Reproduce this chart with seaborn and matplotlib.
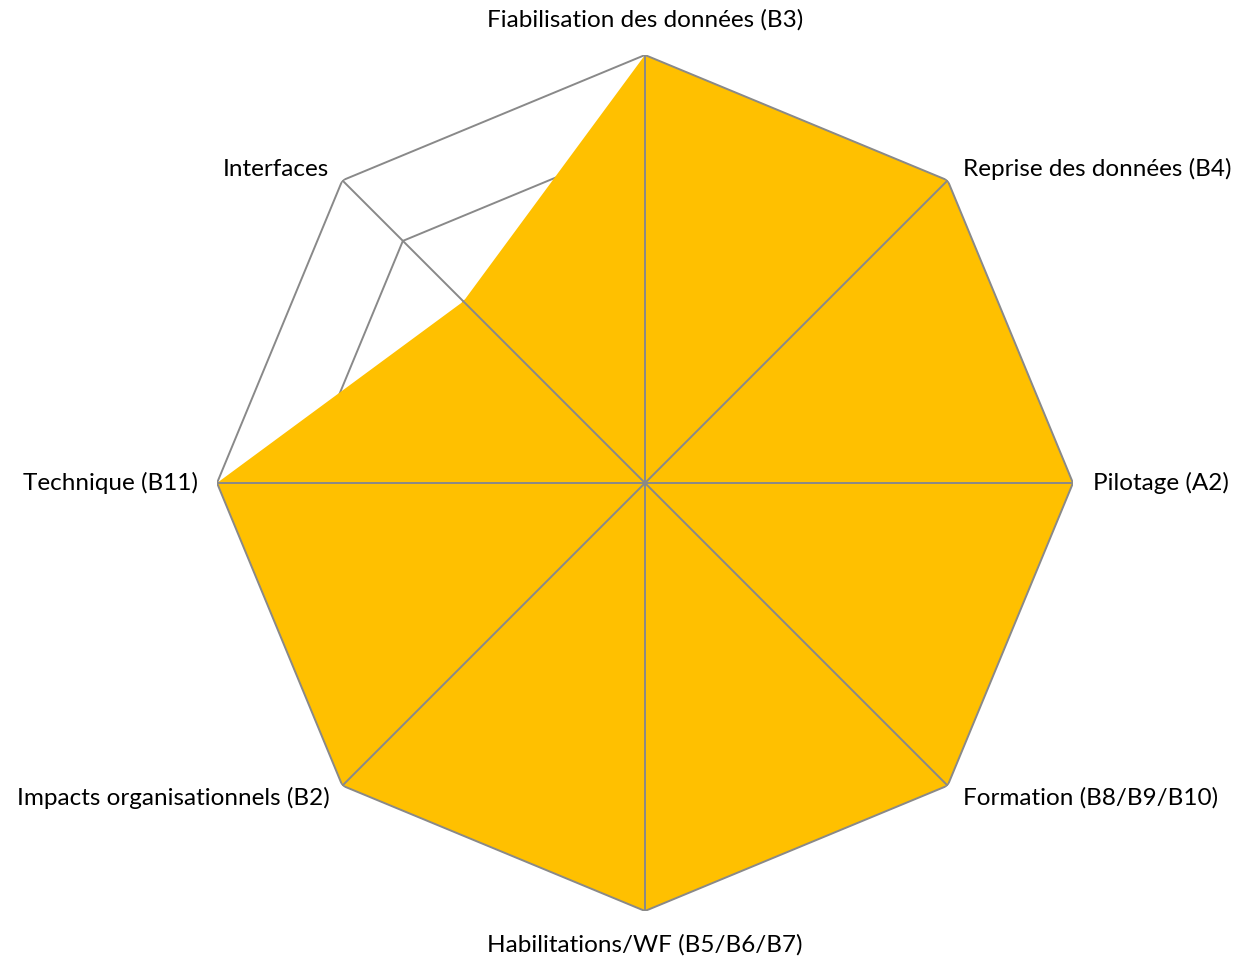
import numpy as np
import matplotlib
matplotlib.use("Agg")
import matplotlib.pyplot as plt
import seaborn as sns

categories = [
    "Fiabilisation des données (B3)",
    "Reprise des données (B4)",
    "Pilotage (A2)",
    "Formation (B8/B9/B10)",
    "Habilitations/WF (B5/B6/B7)",
    "Impacts organisationnels (B2)",
    "Technique (B11)",
    "Interfaces",
]
values = [5, 5, 5, 5, 5, 5, 5, 3]
ring_levels = [1, 2, 3, 4, 5]
max_value = 5

sns.set_theme(style="white")
plt.rcParams["font.family"] = ["Lato", "DejaVu Sans"]

fig = plt.figure(figsize=(12.37, 9.58), dpi=100)
ax = fig.add_axes([217 / 1237, (958 - 483 - 428) / 958, 856 / 1237, 856 / 958],
                  projection="polar")
ax.set_theta_offset(np.pi / 2)
ax.set_theta_direction(-1)
ax.set_ylim(0, max_value)
ax.grid(False)
ax.set_xticks([])
ax.set_yticks([])
ax.spines["polar"].set_visible(False)
ax.set_facecolor("white")

n = len(categories)
theta = np.arange(n) * 2 * np.pi / n
theta_c = np.append(theta, theta[0])

grid_color = "#898989"
lw = 1.4

# inner rings (under the fill)
for lvl in ring_levels[:-1]:
    ax.plot(theta_c, [lvl] * (n + 1), color=grid_color, lw=lw, zorder=1)

vals_c = np.append(values, values[0])
ax.fill(theta_c, vals_c, color="#FFC000", zorder=2, lw=0)

# spokes and outer ring on top
for t in theta:
    ax.plot([t, t], [0, max_value], color=grid_color, lw=lw, zorder=3)
ax.plot(theta_c, [ring_levels[-1]] * (n + 1), color=grid_color, lw=lw, zorder=3)

offsets = [(0, 35, "center"), (15, 11, "left"), (20, 0, "left"), (15, -12, "left"),
           (0, -34, "center"), (-13, -12, "right"), (-19, 0, "right"), (-13, 11, "right")]
for t, lab, (dx, dy, ha) in zip(theta, categories, offsets):
    ax.annotate(lab, xy=(t, max_value), xytext=(dx, dy), textcoords="offset pixels",
                ha=ha, va="center", fontsize=17.5, color="#000000",
                annotation_clip=False)

fig.savefig("out.png", dpi=100, facecolor="white")
